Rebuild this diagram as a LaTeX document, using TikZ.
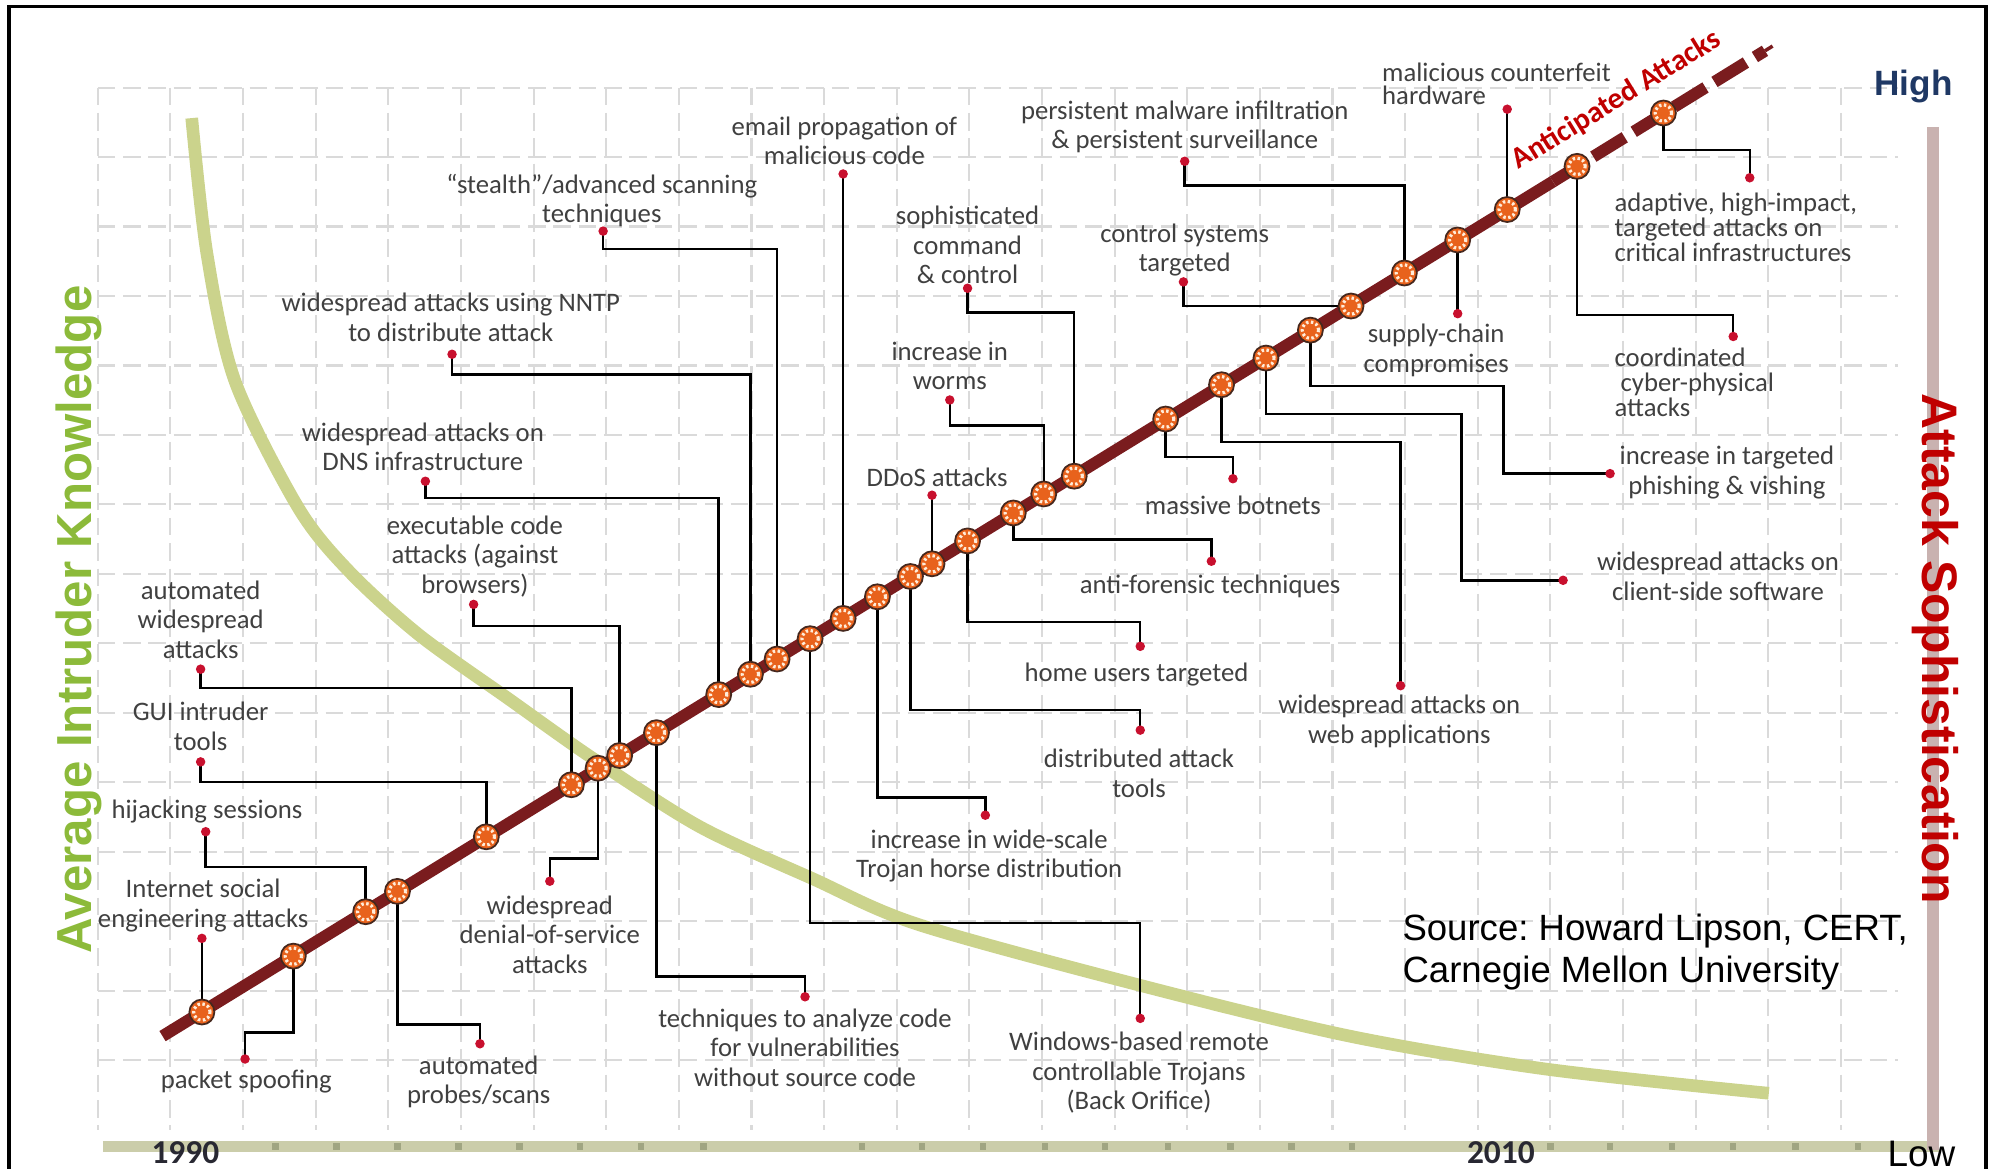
\documentclass[tikz,border=0pt]{standalone}
\usepackage{fontspec}
\setmainfont{Carlito}
\newfontfamily\arialfont{Liberation Sans}
\frenchspacing
\usetikzlibrary{backgrounds}
\definecolor{lblgray}{RGB}{64,64,64}
\definecolor{pinred}{RGB}{200,16,46}
\definecolor{mkorange}{RGB}{232,98,28}
\definecolor{mkedge}{RGB}{70,40,30}
\definecolor{linered}{RGB}{122,28,30}
\definecolor{kncurve}{RGB}{203,211,140}
\definecolor{kngreen}{RGB}{140,186,58}
\definecolor{sophred}{RGB}{192,0,0}
\definecolor{barkhaki}{RGB}{203,205,170}
\definecolor{bardot}{RGB}{160,165,130}
\definecolor{barrose}{RGB}{201,178,176}
\definecolor{highblue}{RGB}{31,56,100}
\definecolor{yeargray}{RGB}{40,40,50}
\definecolor{gridgray}{RGB}{218,218,218}
\tikzstyle{marker} = [circle, draw=mkedge, fill=mkorange, line width=0.5pt, minimum size=0.25cm, inner sep=0pt,
  path picture={\draw[white!85!orange, line width=0.9pt, dash pattern=on 0.7pt off 0.7pt] (path picture bounding box.center) circle (0.082cm);}]
\tikzstyle{pin} = [circle, fill=pinred, inner sep=0pt, minimum size=0.095cm]
\tikzstyle{lbl} = [align=center, text=lblgray, inner sep=0pt, font=\fontsize{7.6}{8.4}\selectfont]
\tikzstyle{lbltight} = [align=left, anchor=west, text=lblgray, inner sep=0pt, font=\fontsize{7.6}{7.2}\selectfont]
\tikzstyle{conn} = [black, line width=0.7pt]
\tikzstyle{gridline} = [gridgray, line width=0.6pt, dash pattern=on 5pt off 2.2pt]
\tikzstyle{redline} = [linered, line width=3.4pt]

\begin{document}
\begin{tikzpicture}[x=0.0127cm, y=-0.0127cm]
\useasboundingbox (0,0) rectangle (1568,920);

% Frame
\draw[black, line width=1pt] (7,940) -- (7,5) -- (1564,5) -- (1564,940);

% Line end points
\coordinate (lnstart) at (128,816);
\coordinate (lnmid) at (1223,143);
\coordinate (lnend) at (1390,40);

% Attack markers on the line
\node[marker] (soc) at (159,797) {};
\node[marker] (spoof) at (231,753) {};
\node[marker] (hijack) at (288,718) {};
\node[marker] (probe) at (313,702) {};
\node[marker] (gui) at (383,659) {};
\node[marker] (autowide) at (450,618) {};
\node[marker] (dos) at (471,605) {};
\node[marker] (exec) at (488,595) {};
\node[marker] (analyze) at (517,577) {};
\node[marker] (dns) at (566,547) {};
\node[marker] (nntp) at (591,531) {};
\node[marker] (stealth) at (612,519) {};
\node[marker] (windows) at (638,503) {};
\node[marker] (email) at (664,487) {};
\node[marker] (trojan) at (691,470) {};
\node[marker] (dist) at (717,454) {};
\node[marker] (ddos) at (734,444) {};
\node[marker] (home) at (762,426) {};
\node[marker] (forensic) at (798,404) {};
\node[marker] (worms) at (822,389) {};
\node[marker] (cnc) at (846,375) {};
\node[marker] (botnet) at (918,330) {};
\node[marker] (webapp) at (962,303) {};
\node[marker] (client) at (997,282) {};
\node[marker] (phish) at (1032,260) {};
\node[marker] (ctrl) at (1064,241) {};
\node[marker] (persist) at (1106,215) {};
\node[marker] (supply) at (1148,189) {};
\node[marker] (hw) at (1187,165) {};
\node[marker] (cyber) at (1242,131) {};
\node[marker] (adapt) at (1310,89) {};

% Label pins
\node[pin] (socdot) at (159,739) {};
\node[pin] (spoofdot) at (193,834) {};
\node[pin] (hijackdot) at (162,655) {};
\node[pin] (probedot) at (378,822) {};
\node[pin] (guidot) at (158,600) {};
\node[pin] (autowidedot) at (158,527) {};
\node[pin] (dosdot) at (433,694) {};
\node[pin] (execdot) at (373,476) {};
\node[pin] (analyzedot) at (634,785) {};
\node[pin] (dnsdot) at (335,379) {};
\node[pin] (nntpdot) at (356,279) {};
\node[pin] (stealthdot) at (475,182) {};
\node[pin] (windowsdot) at (898,802) {};
\node[pin] (emaildot) at (664,137) {};
\node[pin] (trojandot) at (776,642) {};
\node[pin] (distdot) at (898,575) {};
\node[pin] (ddosdot) at (734,390) {};
\node[pin] (homedot) at (898,509) {};
\node[pin] (forensicdot) at (954,442) {};
\node[pin] (wormsdot) at (748,315) {};
\node[pin] (cncdot) at (762,227) {};
\node[pin] (botnetdot) at (971,377) {};
\node[pin] (webappdot) at (1103,540) {};
\node[pin] (clientdot) at (1231,457) {};
\node[pin] (phishdot) at (1268,373) {};
\node[pin] (ctrldot) at (932,222) {};
\node[pin] (persistdot) at (933,127) {};
\node[pin] (supplydot) at (1148,247) {};
\node[pin] (hwdot) at (1187,86) {};
\node[pin] (cyberdot) at (1365,265) {};
\node[pin] (adaptdot) at (1378,140) {};

% Labels
\node[lbl] (soclbl) at (160,713) {Internet social\\engineering attacks};
\node[lbl] (spooflbl) at (194,852) {packet spoofing};
\node[lbl] (hijacklbl) at (163,639) {hijacking sessions};
\node[lbl] (probelbl) at (377,852) {automated\\probes/scans};
\node[lbl] (guilbl) at (158,572) {GUI intruder\\tools};
\node[lbl] (autowidelbl) at (158,488) {automated\\widespread\\attacks};
\node[lbl] (doslbl) at (433,736) {widespread\\denial-of-service\\attacks};
\node[lbl] (execlbl) at (374,438) {executable code\\attacks (against\\browsers)};
\node[lbl] (analyzelbl) at (634,825) {techniques to analyze code\\for vulnerabilities\\without source code};
\node[lbl] (dnslbl) at (333,352) {widespread attacks on\\DNS infrastructure};
\node[lbl] (nntplbl) at (355,250) {widespread attacks using NNTP\\to distribute attack};
\node[lbl] (stealthlbl) at (474,158) {“stealth”/advanced scanning\\techniques};
\node[lbl] (windowslbl) at (897,845) {Windows-based remote\\controllable Trojans\\(Back Orifice)};
\node[lbl] (emaillbl) at (665,111) {email propagation of\\malicious code};
\node[lbl] (trojanlbl) at (779,674) {increase in wide-scale\\Trojan horse distribution};
\node[lbl] (distlbl) at (897,609) {distributed attack\\tools};
\node[lbl] (ddoslbl) at (738,376) {DDoS attacks};
\node[lbl] (homelbl) at (895,531) {home users targeted};
\node[lbl] (forensiclbl) at (953,462) {anti-forensic techniques};
\node[lbl] (wormslbl) at (748,288) {increase in\\worms};
\node[lbl] (cnclbl) at (762,193) {sophisticated\\command\\\& control};
\node[lbl] (botnetlbl) at (971,398) {massive botnets};
\node[lbl] (webapplbl) at (1102,568) {widespread attacks on\\web applications};
\node[lbl] (clientlbl) at (1353,454) {widespread attacks on\\client-side software};
\node[lbl] (phishlbl) at (1360,372) {increase in targeted\\phishing \& vishing};
\node[lbl] (ctrllbl) at (933,197) {control systems\\targeted};
\node[lbl] (persistlbl) at (933,100) {persistent malware infiltration\\\& persistent surveillance};
\node[lbl] (supplylbl) at (1131,276) {supply-chain\\compromises};
\node[lbltight, font=\fontsize{7.6}{6.8}\selectfont] (hwlbl) at (1088,66) {malicious counterfeit\\hardware};
\node[lbltight] (cyberlbl) at (1271,301) {coordinated\\\ cyber-physical\\attacks};
\node[lbltight] (adaptlbl) at (1271,179) {adaptive, high-impact,\\targeted attacks on\\critical infrastructures};

% Titles and axis texts
\node[font=\bfseries\fontsize{8.5}{10}\selectfont, text=sophred, rotate=31.6, inner sep=0pt] (antic) at (1273,79) {Anticipated Attacks};
\node[font=\arialfont\bfseries\fontsize{14}{16}\selectfont, text=kngreen, rotate=90, anchor=base, inner sep=0pt] (knowtitle) at (72,488) {Average Intruder Knowledge};
\node[font=\arialfont\bfseries\fontsize{14.2}{16}\selectfont, text=sophred, rotate=-90, anchor=base, inner sep=0pt] (sophtitle) at (1514,511) {Attack Sophistication};
\node[font=\arialfont\bfseries\fontsize{10}{12}\selectfont, text=highblue, inner sep=0pt] (high) at (1507,68) {High};
\node[font=\arialfont\fontsize{10.5}{12}\selectfont, anchor=base west, inner sep=0pt] (low) at (1486,919) {Low};
\node[font=\bfseries\fontsize{9.5}{11}\selectfont, text=yeargray, inner sep=0pt] (y1990) at (146,908) {1990};
\node[font=\bfseries\fontsize{9.5}{11}\selectfont, text=yeargray, inner sep=0pt] (y2010) at (1182,908) {2010};
\node[font=\arialfont\fontsize{10.4}{11.9}\selectfont, align=left, anchor=west, inner sep=0pt] (source) at (1104,750) {Source: Howard Lipson, CERT,\\Carnegie Mellon University};

\begin{pgfonlayer}{background}
% Grid
\foreach \gx in {0,...,24}
  \draw[gridline] ({77+57.2*\gx},69) -- ({77+57.2*\gx},890);
\foreach \gy in {0,...,14}
  \draw[gridline] (77,{69+54.7*\gy}) -- (1495,{69+54.7*\gy});

% Axis bars
\draw[barkhaki, line width=3.2pt] (81,903) -- (1527,903);
\foreach \bx in {217,265,313,361,409,457,505,554,679,726,774,823,870,920,969,1017,1065,1221,1268,1317,1365,1414,1463}
  \fill[bardot] (\bx-2.5,900.5) rectangle (\bx+2.5,905.5);
\draw[barrose, line width=3.4pt] (1522,100) -- (1522,906);

% Intruder knowledge curve
\draw[kncurve, line width=3.6pt] plot[smooth, tension=0.5] coordinates {(151,93) (163,200) (185,300) (235,400) (275,450) (330,500) (400,550) (468,598) (551,651) (640,692) (723,728) (898,776) (1063,816) (1218,842) (1393,861)};

% Attack sophistication line
\draw[redline] (lnstart) -- (lnmid);
\draw[redline, dash pattern=on 10.5pt off 3pt] (lnmid) -- (lnend);
\draw[linered, line width=1pt] (lnend) -- ++(6,-3.7);

% Connectors
\draw[conn] (soc.center) -- (socdot.center);
\draw[conn] (spoof.center) -- ++(0,60) -| (spoofdot.center);
\draw[conn] (hijack.center) -- ++(0,-35) -| (hijackdot.center);
\draw[conn] (probe.center) -- ++(0,105) -| (probedot.center);
\draw[conn] (gui.center) -- ++(0,-43) -| (guidot.center);
\draw[conn] (autowide.center) -- ++(0,-76) -| (autowidedot.center);
\draw[conn] (dos.center) -- ++(0,71) -| (dosdot.center);
\draw[conn] (exec.center) -- ++(0,-102) -| (execdot.center);
\draw[conn] (analyze.center) -- ++(0,192) -| (analyzedot.center);
\draw[conn] (dns.center) -- ++(0,-155) -| (dnsdot.center);
\draw[conn] (nntp.center) -- ++(0,-236) -| (nntpdot.center);
\draw[conn] (stealth.center) -- ++(0,-323) -| (stealthdot.center);
\draw[conn] (windows.center) -- ++(0,224) -| (windowsdot.center);
\draw[conn] (email.center) -- (emaildot.center);
\draw[conn] (trojan.center) -- ++(0,158) -| (trojandot.center);
\draw[conn] (dist.center) -- ++(0,105) -| (distdot.center);
\draw[conn] (ddos.center) -- (ddosdot.center);
\draw[conn] (home.center) -- ++(0,64) -| (homedot.center);
\draw[conn] (forensic.center) -- ++(0,21) -| (forensicdot.center);
\draw[conn] (worms.center) -- ++(0,-54) -| (wormsdot.center);
\draw[conn] (cnc.center) -- ++(0,-129) -| (cncdot.center);
\draw[conn] (botnet.center) -- ++(0,30) -| (botnetdot.center);
\draw[conn] (webapp.center) -- ++(0,45) -| (webappdot.center);
\draw[conn] (client.center) -- ++(0,44) -- ++(154,0) |- (clientdot.center);
\draw[conn] (phish.center) -- ++(0,44) -- ++(152,0) |- (phishdot.center);
\draw[conn] (ctrl.center) -| (ctrldot.center);
\draw[conn] (persist.center) -- ++(0,-69) -| (persistdot.center);
\draw[conn] (supply.center) -- (supplydot.center);
\draw[conn] (hw.center) -- (hwdot.center);
\draw[conn] (cyber.center) -- ++(0,117) -| (cyberdot.center);
\draw[conn] (adapt.center) -- ++(0,29) -| (adaptdot.center);
\end{pgfonlayer}

\end{tikzpicture}
\end{document}
